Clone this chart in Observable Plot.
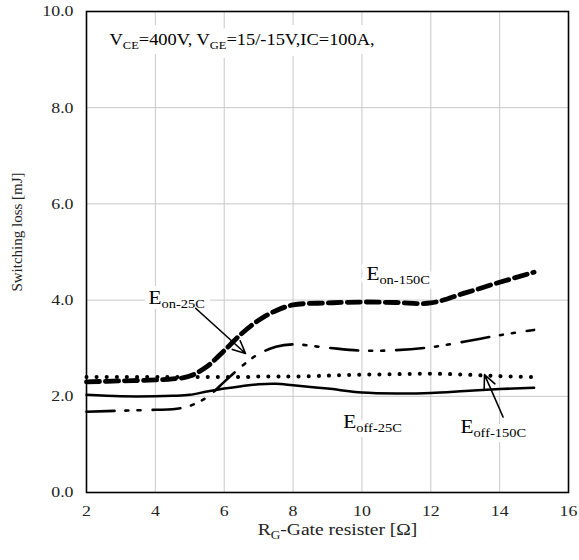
<!DOCTYPE html>
<html>
<head>
<meta charset="utf-8">
<script src="https://cdn.jsdelivr.net/npm/d3@7"></script>
<script src="https://cdn.jsdelivr.net/npm/@observablehq/plot@0.6"></script>
<style>
  body { margin: 0; background: #fff; }
  #chart svg { display: block; }
</style>
</head>
<body>
<div id="chart"></div>
<script>
// Gate resistance (Ω)
const rg = [2, 3, 4, 4.5, 5, 5.5, 6, 6.5, 7, 7.5, 8, 9, 10, 11, 12, 13, 14, 15];
// Switching loss (mJ)
const eon150 = [2.30, 2.32, 2.34, 2.36, 2.42, 2.62, 2.95, 3.30, 3.58, 3.78, 3.90, 3.94, 3.96, 3.95, 3.94, 4.15, 4.37, 4.58];
const eon25  = [1.68, 1.70, 1.72, 1.73, 1.80, 1.98, 2.30, 2.62, 2.88, 3.03, 3.08, 3.01, 2.95, 2.96, 3.02, 3.14, 3.27, 3.38];
const eoff25 = [2.03, 2.00, 2.00, 2.01, 2.03, 2.10, 2.16, 2.21, 2.25, 2.26, 2.23, 2.16, 2.08, 2.06, 2.07, 2.11, 2.15, 2.18];
const eoff150= [2.40, 2.40, 2.40, 2.40, 2.40, 2.40, 2.40, 2.40, 2.41, 2.41, 2.41, 2.43, 2.45, 2.46, 2.47, 2.45, 2.42, 2.40];

const xTicks = [2, 4, 6, 8, 10, 12, 14, 16];
const yTicks = [0, 2, 4, 6, 8, 10];

const header = "V_{CE}=400V, V_{GE}=15/-15V,IC=100A,";
const xTitle = "R_{G}-Gate resister [Ω]";
const yTitle = "Switching loss [mJ]";

const labels = [
  {text: "E_{on-25C}",   x: 3.80,  y: 3.91},
  {text: "E_{on-150C}",  x: 10.13, y: 4.41},
  {text: "E_{off-25C}",  x: 9.46,  y: 1.35},
  {text: "E_{off-150C}", x: 12.86, y: 1.23}
];
const arrows = [
  {x1: 5.17, y1: 3.83, x2: 6.62, y2: 2.89},
  {x1: 14.10, y1: 1.57, x2: 13.56, y2: 2.45}
];

const series = (ys) => rg.map((x, i) => ({x, y: ys[i]}));

const headerOpts = {frameAnchor: "top-left", text: d => d, dx: 23, dy: 22, textAnchor: "start", fontSize: 16};
const labelOpts = {x: "x", y: "y", text: "text", textAnchor: "start", lineAnchor: "bottom", fontSize: 18.5};

const plot = Plot.plot({
  width: 579,
  height: 560,
  marginLeft: 86,
  marginRight: 11,
  marginTop: 11,
  marginBottom: 68,
  style: {fontFamily: "'Liberation Serif', serif", fontSize: "15.5px", color: "#222", background: "#fff"},
  x: {domain: [2, 16]},
  y: {domain: [0, 10]},
  marks: [
    Plot.gridX(xTicks, {stroke: "#c8c8c8", strokeOpacity: 1}),
    Plot.gridY(yTicks, {stroke: "#c8c8c8", strokeOpacity: 1}),
    Plot.axisX(xTicks, {tickSize: 0, tickPadding: 12, label: null, fontSize: 15.5}),
    Plot.axisY(yTicks, {tickSize: 0, tickPadding: 13, label: null, tickFormat: d3.format(".1f"), fontSize: 15.5}),
    // white halos (gaps in the grid behind text)
    Plot.text([header], {...headerOpts, fill: "white", stroke: "white", strokeWidth: 18}),
    Plot.text(labels, {...labelOpts, fill: "white", stroke: "white", strokeWidth: 10}),
    Plot.line(series(eoff25), {x: "x", y: "y", curve: "catmull-rom", stroke: "#000", strokeWidth: 2.5}),
    Plot.line(series(eoff150), {x: "x", y: "y", curve: "catmull-rom", stroke: "#000", strokeWidth: 4,
      strokeLinecap: "round", strokeDasharray: "0.1,10"}),
    Plot.line(series(eon25), {x: "x", y: "y", curve: "catmull-rom", stroke: "#000", strokeWidth: 2.6,
      strokeDasharray: "28,11,3,9,3,12"}),
    Plot.line(series(eon150), {x: "x", y: "y", curve: "catmull-rom", stroke: "#000", strokeWidth: 4.8,
      strokeDasharray: "13,6"}),
    Plot.text([header], {...headerOpts, fill: "#000"}),
    Plot.text(labels, {...labelOpts, fill: "#000"}),
    Plot.arrow(arrows, {x1: "x1", y1: "y1", x2: "x2", y2: "y2", stroke: "#000", strokeWidth: 1.6,
      headLength: 13, headAngle: 50}),
    Plot.text([xTitle], {frameAnchor: "bottom", text: d => d, dy: 42, dx: 10, fontSize: 17, fill: "#222"}),
    Plot.text([yTitle], {frameAnchor: "left", text: d => d, textAnchor: "middle", rotate: -90, dx: -69, dy: -20,
      fontSize: 15, fill: "#222"}),
    Plot.frame({stroke: "#000", strokeWidth: 1.6})
  ]
});

// Turn "_{...}" into subscripts
d3.select(plot).selectAll("text").each(function () {
  if (this.querySelector("tspan")) return;
  const t = this.textContent;
  if (!t.includes("_{")) return;
  const sel = d3.select(this);
  sel.text(null);
  const parts = t.split(/(_\{[^}]*\})/).filter(p => p);
  let shifted = false;
  for (const p of parts) {
    if (p.startsWith("_{")) {
      sel.append("tspan").attr("dy", 4).attr("font-size", "0.68em").text(p.slice(2, -1));
      shifted = true;
    } else {
      const ts = sel.append("tspan").text(p);
      if (shifted) { ts.attr("dy", -4); shifted = false; }
    }
  }
});

// The reference's horizontal text is slightly wide: stretch it horizontally about its anchor
d3.select(plot).selectAll("text").each(function () {
  const tr = this.getAttribute("transform") || "";
  if (tr.includes("rotate")) return;
  const xa = this.getAttribute("x");
  let x = 0;
  if (xa != null && isFinite(+xa)) { x = +xa; this.removeAttribute("x"); }
  else if (xa != null) return;
  this.setAttribute("transform", `${tr} translate(${x},0) scale(1.15,1)`);
});

document.getElementById("chart").appendChild(plot);
</script>
</body>
</html>
